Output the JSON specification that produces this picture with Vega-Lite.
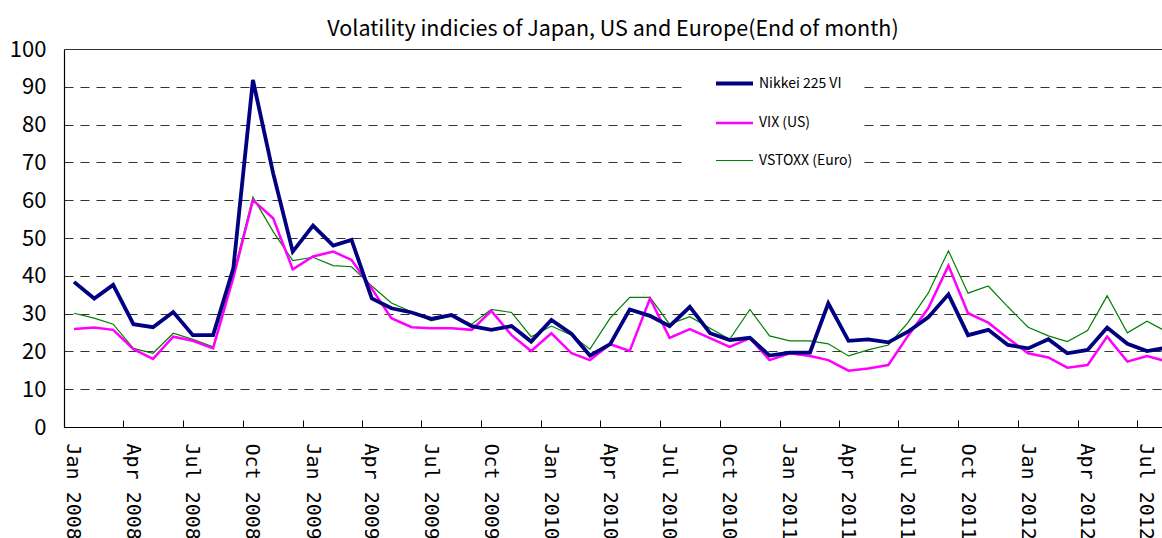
{
  "$schema": "https://vega.github.io/schema/vega-lite/v6.json",
  "autosize": {"type": "none"},
  "padding": {"left": 64, "top": 49, "right": 0, "bottom": 111},
  "width": 1098,
  "height": 378,
  "background": "white",
  "config": {"view": {"stroke": null}},
  "title": {
    "text": "Volatility indicies of Japan, US and Europe(End of month)",
    "font": "Noto Sans CJK JP",
    "fontSize": 21.5,
    "fontWeight": "normal",
    "color": "black",
    "anchor": "middle",
    "offset": -2
  },
  "data": {
    "values": [
      {"month": "2008-01-01", "Nikkei": 38.4, "VIX": 25.9, "VSTOXX": 30.1},
      {"month": "2008-02-01", "Nikkei": 34.0, "VIX": 26.3, "VSTOXX": 28.8},
      {"month": "2008-03-01", "Nikkei": 37.6, "VIX": 25.7, "VSTOXX": 27.2},
      {"month": "2008-04-01", "Nikkei": 27.2, "VIX": 20.6, "VSTOXX": 20.8},
      {"month": "2008-05-01", "Nikkei": 26.4, "VIX": 18.0, "VSTOXX": 19.5},
      {"month": "2008-06-01", "Nikkei": 30.4, "VIX": 23.9, "VSTOXX": 24.8},
      {"month": "2008-07-01", "Nikkei": 24.3, "VIX": 22.8, "VSTOXX": 23.2},
      {"month": "2008-08-01", "Nikkei": 24.3, "VIX": 20.8, "VSTOXX": 21.2},
      {"month": "2008-09-01", "Nikkei": 42.0, "VIX": 39.5, "VSTOXX": 40.5},
      {"month": "2008-10-01", "Nikkei": 91.8, "VIX": 60.0, "VSTOXX": 60.8},
      {"month": "2008-11-01", "Nikkei": 67.1, "VIX": 55.2, "VSTOXX": 51.7},
      {"month": "2008-12-01", "Nikkei": 46.4, "VIX": 41.7, "VSTOXX": 44.0},
      {"month": "2009-01-01", "Nikkei": 53.3, "VIX": 45.1, "VSTOXX": 44.9},
      {"month": "2009-02-01", "Nikkei": 48.0, "VIX": 46.4, "VSTOXX": 42.7},
      {"month": "2009-03-01", "Nikkei": 49.5, "VIX": 44.2, "VSTOXX": 42.4},
      {"month": "2009-04-01", "Nikkei": 34.0, "VIX": 36.6, "VSTOXX": 37.3},
      {"month": "2009-05-01", "Nikkei": 31.4, "VIX": 28.8, "VSTOXX": 32.8},
      {"month": "2009-06-01", "Nikkei": 30.3, "VIX": 26.4, "VSTOXX": 30.5},
      {"month": "2009-07-01", "Nikkei": 28.6, "VIX": 26.1, "VSTOXX": 28.1},
      {"month": "2009-08-01", "Nikkei": 29.6, "VIX": 26.1, "VSTOXX": 29.4},
      {"month": "2009-09-01", "Nikkei": 26.7, "VIX": 25.7, "VSTOXX": 27.2},
      {"month": "2009-10-01", "Nikkei": 25.7, "VIX": 30.7, "VSTOXX": 31.1},
      {"month": "2009-11-01", "Nikkei": 26.7, "VIX": 24.3, "VSTOXX": 30.3},
      {"month": "2009-12-01", "Nikkei": 22.6, "VIX": 20.1, "VSTOXX": 23.9},
      {"month": "2010-01-01", "Nikkei": 28.3, "VIX": 24.8, "VSTOXX": 26.7},
      {"month": "2010-02-01", "Nikkei": 24.6, "VIX": 19.5, "VSTOXX": 24.3},
      {"month": "2010-03-01", "Nikkei": 18.9, "VIX": 17.7, "VSTOXX": 20.6},
      {"month": "2010-04-01", "Nikkei": 21.9, "VIX": 21.9, "VSTOXX": 28.8},
      {"month": "2010-05-01", "Nikkei": 31.1, "VIX": 20.1, "VSTOXX": 34.3},
      {"month": "2010-06-01", "Nikkei": 29.4, "VIX": 34.0, "VSTOXX": 34.3},
      {"month": "2010-07-01", "Nikkei": 26.7, "VIX": 23.6, "VSTOXX": 27.2},
      {"month": "2010-08-01", "Nikkei": 31.8, "VIX": 25.9, "VSTOXX": 29.2},
      {"month": "2010-09-01", "Nikkei": 24.8, "VIX": 23.5, "VSTOXX": 26.1},
      {"month": "2010-10-01", "Nikkei": 23.0, "VIX": 21.2, "VSTOXX": 23.2},
      {"month": "2010-11-01", "Nikkei": 23.6, "VIX": 23.5, "VSTOXX": 31.1},
      {"month": "2010-12-01", "Nikkei": 18.9, "VIX": 17.7, "VSTOXX": 24.1},
      {"month": "2011-01-01", "Nikkei": 19.7, "VIX": 19.5, "VSTOXX": 22.8},
      {"month": "2011-02-01", "Nikkei": 19.7, "VIX": 18.8, "VSTOXX": 22.8},
      {"month": "2011-03-01", "Nikkei": 32.7, "VIX": 17.7, "VSTOXX": 22.0},
      {"month": "2011-04-01", "Nikkei": 22.8, "VIX": 14.9, "VSTOXX": 18.8},
      {"month": "2011-05-01", "Nikkei": 23.2, "VIX": 15.5, "VSTOXX": 20.4},
      {"month": "2011-06-01", "Nikkei": 22.4, "VIX": 16.4, "VSTOXX": 21.7},
      {"month": "2011-07-01", "Nikkei": 25.2, "VIX": 24.1, "VSTOXX": 27.6},
      {"month": "2011-08-01", "Nikkei": 29.0, "VIX": 31.4, "VSTOXX": 35.4},
      {"month": "2011-09-01", "Nikkei": 35.1, "VIX": 42.7, "VSTOXX": 46.6},
      {"month": "2011-10-01", "Nikkei": 24.3, "VIX": 30.1, "VSTOXX": 35.4},
      {"month": "2011-11-01", "Nikkei": 25.7, "VIX": 27.6, "VSTOXX": 37.3},
      {"month": "2011-12-01", "Nikkei": 21.7, "VIX": 23.5, "VSTOXX": 31.8},
      {"month": "2012-01-01", "Nikkei": 20.8, "VIX": 19.5, "VSTOXX": 26.4},
      {"month": "2012-02-01", "Nikkei": 23.2, "VIX": 18.4, "VSTOXX": 24.1},
      {"month": "2012-03-01", "Nikkei": 19.5, "VIX": 15.7, "VSTOXX": 22.6},
      {"month": "2012-04-01", "Nikkei": 20.4, "VIX": 16.4, "VSTOXX": 25.5},
      {"month": "2012-05-01", "Nikkei": 26.3, "VIX": 23.9, "VSTOXX": 34.7},
      {"month": "2012-06-01", "Nikkei": 22.0, "VIX": 17.3, "VSTOXX": 24.9},
      {"month": "2012-07-01", "Nikkei": 20.1, "VIX": 18.8, "VSTOXX": 28.0},
      {"month": "2012-08-01", "Nikkei": 21.0, "VIX": 17.3, "VSTOXX": 25.1}
    ]
  },
  "transform": [
    {"fold": ["VSTOXX", "VIX", "Nikkei"], "as": ["series", "value"]}
  ],
  "mark": {"type": "line", "clip": true, "strokeJoin": "miter"},
  "encoding": {
    "x": {
      "field": "month",
      "type": "temporal",
      "scale": {
        "type": "utc",
        "domain": [
          {"year": 2007, "month": 12, "date": 16, "hours": 17, "utc": true},
          {"year": 2012, "month": 7, "date": 24, "utc": true}
        ]
      },
      "axis": {
        "title": null,
        "grid": false,
        "values": [
          {"year": 2008, "month": 1, "date": 1, "utc": true},
          {"year": 2008, "month": 4, "date": 1, "utc": true},
          {"year": 2008, "month": 7, "date": 1, "utc": true},
          {"year": 2008, "month": 10, "date": 1, "utc": true},
          {"year": 2009, "month": 1, "date": 1, "utc": true},
          {"year": 2009, "month": 4, "date": 1, "utc": true},
          {"year": 2009, "month": 7, "date": 1, "utc": true},
          {"year": 2009, "month": 10, "date": 1, "utc": true},
          {"year": 2010, "month": 1, "date": 1, "utc": true},
          {"year": 2010, "month": 4, "date": 1, "utc": true},
          {"year": 2010, "month": 7, "date": 1, "utc": true},
          {"year": 2010, "month": 10, "date": 1, "utc": true},
          {"year": 2011, "month": 1, "date": 1, "utc": true},
          {"year": 2011, "month": 4, "date": 1, "utc": true},
          {"year": 2011, "month": 7, "date": 1, "utc": true},
          {"year": 2011, "month": 10, "date": 1, "utc": true},
          {"year": 2012, "month": 1, "date": 1, "utc": true},
          {"year": 2012, "month": 4, "date": 1, "utc": true},
          {"year": 2012, "month": 7, "date": 1, "utc": true}
        ],
        "labelExpr": "utcFormat(datum.value, '%b %Y')",
        "labelAngle": 90,
        "labelAlign": "left",
        "labelBaseline": "middle",
        "labelFont": "DejaVu Sans Mono",
        "labelFontSize": 20,
        "labelColor": "black",
        "labelPadding": 23,
        "labelOffset": 9,
        "labelOverlap": false,
        "labelFlush": false,
        "tickOffset": -10,
        "tickSize": -7,
        "tickColor": "black",
        "domainColor": "black",
        "domainWidth": 1.2
      }
    },
    "y": {
      "field": "value",
      "type": "quantitative",
      "scale": {"domain": [0, 100], "nice": false},
      "axis": {
        "title": null,
        "values": [0, 10, 20, 30, 40, 50, 60, 70, 80, 90, 100],
        "ticks": false,
        "labelPadding": 18,
        "labelFont": "Noto Sans CJK JP",
        "labelFontSize": 22,
        "labelColor": "black",
        "domainColor": "black",
        "domainWidth": 1.2,
        "grid": true,
        "gridColor": "#333333",
        "gridWidth": 1,
        "gridDash": {"condition": {"test": "datum.value === 100 || datum.value === 0", "value": []}, "value": [9, 7]}
      }
    },
    "color": {
      "field": "series",
      "type": "nominal",
      "scale": {"domain": ["Nikkei", "VIX", "VSTOXX"], "range": ["#000080", "#ff00ff", "#008000"]},
      "legend": {
        "title": null,
        "orient": "none",
        "legendX": 619,
        "legendY": 4,
        "fillColor": "white",
        "padding": 10,
        "symbolType": "stroke",
        "symbolSize": 1369,
        "symbolOffset": 21,
        "rowPadding": 11,
        "labelFont": "Noto Sans CJK JP",
        "labelFontSize": 14,
        "labelColor": "black",
        "labelOffset": 4,
        "labelExpr": "datum.label === 'Nikkei' ? 'Nikkei 225 VI' : datum.label === 'VIX' ? 'VIX (US)' : 'VSTOXX (Euro)'"
      }
    },
    "strokeWidth": {
      "field": "series",
      "type": "nominal",
      "scale": {"domain": ["Nikkei", "VIX", "VSTOXX"], "range": [3.8, 1.2, 1.3]},
      "legend": {
        "title": null,
        "orient": "none",
        "legendX": 619,
        "legendY": 4,
        "fillColor": "white",
        "padding": 10,
        "symbolType": "stroke",
        "symbolSize": 1369,
        "symbolOffset": 21,
        "rowPadding": 11,
        "labelFont": "Noto Sans CJK JP",
        "labelFontSize": 14,
        "labelColor": "black",
        "labelOffset": 4,
        "labelExpr": "datum.label === 'Nikkei' ? 'Nikkei 225 VI' : datum.label === 'VIX' ? 'VIX (US)' : 'VSTOXX (Euro)'"
      }
    }
  }
}
